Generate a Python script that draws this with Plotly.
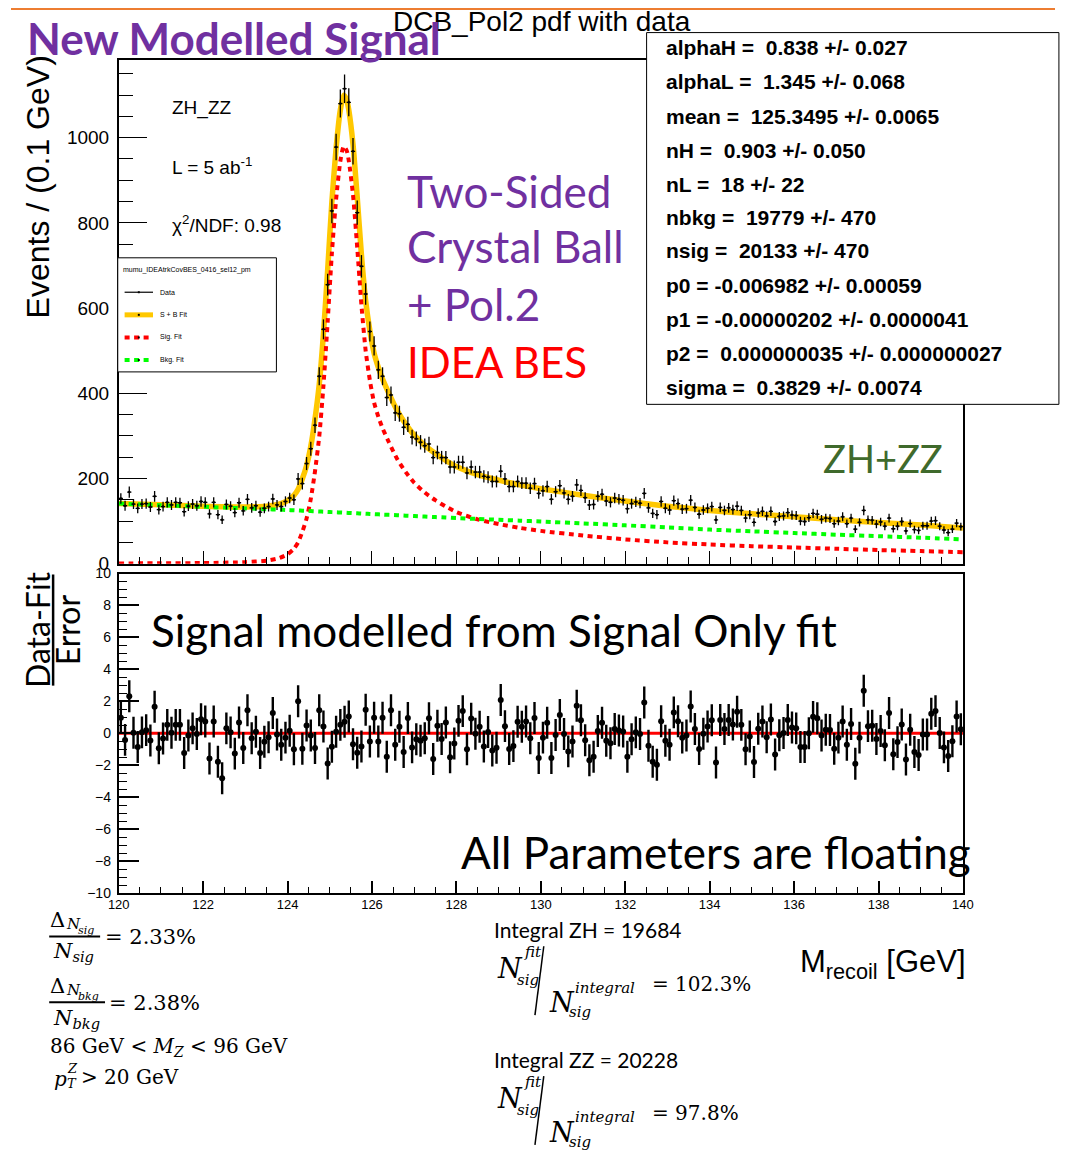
import numpy as np
import plotly.graph_objects as go

# ---------------------------------------------------------------- data
# recoil-mass histogram, 200 bins of 0.1 GeV from 120 to 140 GeV
bin_lo, bin_w, n_bins = 120.0, 0.1, 200

events = [
    153, 136, 168, 140, 130, 140, 141, 133, 158, 127,
    134, 144, 138, 144, 143, 122, 135, 140, 136, 146,
    144, 117, 144, 115, 103, 139, 135, 120, 143, 124,
    151, 131, 136, 121, 130, 134, 152, 138, 134, 146,
    154, 150, 199, 188, 235, 270, 325, 440, 550, 655,
    828, 978, 1080, 1115, 1083, 968, 824, 698, 633, 545,
    511, 455, 440, 390, 396, 354, 352, 320, 327, 297,
    293, 285, 277, 281, 249, 261, 249, 249, 227, 227,
    238, 238, 213, 227, 215, 215, 205, 203, 193, 193,
    217, 199, 181, 181, 193, 189, 189, 177, 188, 165,
    171, 181, 151, 169, 183, 166, 151, 158, 185, 172,
    155, 138, 139, 158, 163, 147, 144, 154, 151, 149,
    129, 141, 145, 142, 165, 131, 118, 115, 146, 130,
    126, 148, 141, 128, 129, 149, 132, 116, 126, 130,
    134, 103, 132, 125, 131, 127, 135, 125, 107, 115,
    97, 119, 123, 112, 123, 99, 111, 112, 120, 114,
    113, 100, 99, 108, 118, 116, 104, 107, 106, 94,
    100, 110, 94, 107, 81, 97, 125, 103, 102, 93,
    98, 88, 107, 82, 88, 99, 77, 94, 80, 78,
    89, 89, 100, 101, 88, 79, 73, 81, 95, 87,
]

# (data - fit) / error for every bin
pulls = [
    0.98, -0.41, 2.32, 0.04, -0.86, 0.06, 0.20, -0.45, 1.66, -0.94,
    -0.33, 0.53, 0.04, 0.53, 0.53, -1.23, -0.14, 0.31, -0.04, 0.88,
    0.74, -1.58, 0.74, -1.78, -2.81, 0.31, 0.06, -1.27, 0.68, -0.92,
    1.44, -0.31, 0.10, -1.23, -0.53, -0.25, 1.27, -0.08, -0.72, -0.27,
    0.16, -1.00, 2.01, -0.96, 0.49, -0.14, -0.92, 1.44, 0.43, -1.89,
    -0.84, 0.10, 0.53, 0.72, 1.05, -0.68, -1.21, -0.82, 1.48, -0.51,
    0.98, -0.51, 0.98, -1.46, 1.44, -0.72, 0.41, -1.17, 0.96, -0.88,
    -0.37, -0.47, -0.31, 0.94, -1.60, 0.47, -0.35, 0.68, -1.50, -0.64,
    0.78, 1.39, -1.00, 0.92, -0.02, 0.41, -0.82, 0.08, -1.07, -0.90,
    2.09, 0.45, -0.98, -0.80, 0.72, 0.41, 0.74, -0.31, 0.96, -1.54,
    -0.27, 0.66, -1.54, -0.10, 1.15, -0.04, -1.13, -0.51, 1.72, 0.82,
    -0.43, -1.68, -1.46, 0.14, 0.66, -0.47, -0.62, 0.27, 0.18, 0.12,
    -1.46, -0.37, 0.06, -0.04, 1.93, -0.78, -1.78, -1.97, 0.76, -0.47,
    -0.72, 1.31, 0.76, -0.27, -0.14, 1.68, 0.27, -0.98, -0.02, 0.43,
    0.82, -1.83, 0.84, 0.27, 0.84, 0.55, 1.35, 0.53, -1.00, -0.20,
    -1.80, 0.29, 0.74, -0.25, 0.86, -1.33, -0.12, 0.02, 0.84, 0.37,
    0.31, -0.86, -0.86, 0.00, 1.03, 0.94, -0.14, 0.23, 0.21, -0.96,
    -0.27, 0.74, -0.72, 0.59, -1.91, -0.27, 2.67, 0.45, 0.47, -0.35,
    0.14, -0.74, 1.27, -1.31, -0.55, 0.55, -1.64, 0.23, -1.17, -1.35,
    -0.08, -0.08, 1.23, 1.39, 0.02, -0.88, -1.42, -0.49, 1.05, 0.25,
]

# fitted model: signal (double-sided Crystal Ball) and background (pol2)
fit_x = [120.0, 121.0, 122.0, 123.0, 123.5, 123.8, 124.0, 124.15,
         124.25, 124.35, 124.45, 124.55, 124.65, 124.75, 124.85, 124.95,
         125.05, 125.15, 125.25, 125.33, 125.4, 125.45, 125.55, 125.65,
         125.75, 125.85, 125.95, 126.05, 126.15, 126.25, 126.4, 126.6,
         126.8, 127.0, 127.25, 127.5, 127.75, 128.0, 128.5, 129.0,
         129.5, 130.0, 131.0, 132.0, 133.0, 134.0, 135.0, 136.0,
         137.0, 138.0, 139.0, 140.0]
sig_fit = [0.5, 1, 1.5, 3.5, 7, 13, 22, 35,
           50, 75, 106, 152, 217, 298, 418, 568,
           729, 855, 945, 980, 970, 946, 866, 742,
           607, 500, 430, 378, 345, 318, 285, 245,
           215, 190, 167, 149, 134, 121, 104, 93,
           84, 77, 66, 57, 50, 45, 41, 38,
           35, 32, 29.5, 27]
bkg_fit = [141, 137.3, 133.5, 129.8, 127.9, 126.8, 126, 125.3,
           124.8, 124.3, 123.9, 123.4, 122.9, 122.4, 122, 121.5,
           121, 120.5, 120.1, 119.7, 119.4, 119.1, 118.6, 118.2,
           117.7, 117.2, 116.7, 116.3, 115.8, 115.3, 114.6, 113.7,
           112.7, 111.8, 110.6, 109.4, 108.2, 107, 105, 103,
           101, 99, 94.5, 90, 85, 80, 76, 72,
           68, 64.5, 61, 57]

fit_params = [
    "alphaH =  0.838 +/- 0.027",
    "alphaL =  1.345 +/- 0.068",
    "mean =  125.3495 +/- 0.0065",
    "nH =  0.903 +/- 0.050",
    "nL =  18 +/- 22",
    "nbkg =  19779 +/- 470",
    "nsig =  20133 +/- 470",
    "p0 = -0.006982 +/- 0.00059",
    "p1 = -0.00000202 +/- 0.0000041",
    "p2 =  0.000000035 +/- 0.000000027",
    "sigma =  0.3829 +/- 0.0074",
]

# ---------------------------------------------------------------- helpers
PAGE_W, PAGE_H = 1082, 1167
BODY = 8                      # default page margin around the plot div
W, H = PAGE_W - 2 * BODY, PAGE_H - 2 * BODY
ARIAL = "Liberation Sans, Arial, sans-serif"
CALIBRI = "Lato, Open Sans, sans-serif"
SERIF = "DejaVu Serif, serif"
PURPLE = "#7030A0"


def px(x):
    """page x (pixels) -> paper fraction"""
    return (x - BODY) / W


def py(y):
    """page y (pixels from top) -> paper fraction"""
    return 1 - (y - BODY) / H


fig = go.Figure()


def label(x, y, text, size, color="black", family=ARIAL, xanchor="left",
          yanchor="middle", angle=0):
    fig.add_annotation(x=px(x), y=py(y), xref="paper", yref="paper",
                       text=text, showarrow=False, textangle=angle,
                       font=dict(size=size, color=color, family=family),
                       xanchor=xanchor, yanchor=yanchor, align="left",
                       borderpad=0)


def seg(x0, y0, x1, y1, color="black", width=1, dash=None):
    fig.add_shape(type="line", xref="paper", yref="paper",
                  x0=px(x0), y0=py(y0), x1=px(x1), y1=py(y1),
                  line=dict(color=color, width=width, dash=dash),
                  layer="above")


def box(x0, y0, x1, y1, fill="white", line="black", width=1):
    fig.add_shape(type="rect", xref="paper", yref="paper",
                  x0=px(x0), y0=py(y0), x1=px(x1), y1=py(y1),
                  fillcolor=fill, line=dict(color=line, width=width),
                  layer="above")


# ---------------------------------------------------------------- traces
centers = np.round(bin_lo + bin_w * (np.arange(n_bins) + 0.5), 3)
ev = np.array(events, dtype=float)
sig = np.array(sig_fit, dtype=float)
bkg = np.array(bkg_fit, dtype=float)

DASH = "5px,4.5px"

fig.add_trace(go.Scatter(x=fit_x, y=sig + bkg, mode="lines",
                         line=dict(color="#FFC800", width=5.5, shape="spline",
                                   smoothing=0.6),
                         xaxis="x", yaxis="y"))
fig.add_trace(go.Scatter(x=fit_x, y=sig, mode="lines",
                         line=dict(color="#FF0000", width=4, dash=DASH,
                                   shape="spline", smoothing=0.6),
                         xaxis="x", yaxis="y"))
fig.add_trace(go.Scatter(x=fit_x, y=bkg, mode="lines",
                         line=dict(color="#00FF00", width=4, dash=DASH,
                                   shape="spline", smoothing=0.6),
                         xaxis="x", yaxis="y"))
fig.add_trace(go.Scatter(
    x=centers, y=ev, mode="markers",
    marker=dict(color="black", size=2.5),
    error_y=dict(type="data", array=np.sqrt(ev), color="black",
                 thickness=1.3, width=0),
    error_x=dict(type="constant", value=bin_w / 2, color="black",
                 thickness=1.3, width=0),
    xaxis="x", yaxis="y"))

# pull panel
fig.add_trace(go.Scatter(x=[120, 140], y=[0, 0], mode="lines",
                         line=dict(color="#FF0000", width=3),
                         xaxis="x2", yaxis="y2"))
fig.add_trace(go.Scatter(
    x=centers, y=pulls, mode="markers",
    marker=dict(color="black", size=6),
    error_y=dict(type="constant", value=1.0, color="black",
                 thickness=2.4, width=0),
    xaxis="x2", yaxis="y2"))

# ---------------------------------------------------------------- axes
XD = [px(118), px(980)]
common = dict(showgrid=False, zeroline=False, showline=True, mirror=True,
              linecolor="black", ticks="inside", tickcolor="black")

fig.update_layout(
    width=W, height=H, margin=dict(l=0, r=0, t=0, b=0),
    paper_bgcolor="white", plot_bgcolor="white", showlegend=False,
    xaxis=dict(domain=XD, range=[120, 140], anchor="y", dtick=2, tick0=120,
               ticklen=13, tickwidth=1.3, linewidth=1.5,
               showticklabels=False,
               minor=dict(dtick=0.5, ticklen=7, ticks="inside",
                          tickcolor="black", tickwidth=1.2),
               **common),
    yaxis=dict(domain=[py(573), py(61)], range=[0, 1182], anchor="x",
               dtick=200, tick0=0, ticklen=29, tickwidth=1.3, linewidth=1.5,
               tickfont=dict(family=ARIAL, size=19, color="black"),
               ticklabelstandoff=4,
               minor=dict(dtick=50, ticklen=15, ticks="inside",
                          tickcolor="black", tickwidth=1.2),
               **common),
    xaxis2=dict(domain=XD, range=[120, 140], anchor="y2", dtick=2, tick0=120,
                ticklen=12, tickwidth=1.5, linewidth=2,
                tickfont=dict(family=ARIAL, size=13, color="black"),
                ticklabelstandoff=-2,
                minor=dict(dtick=0.5, ticklen=6, ticks="inside",
                           tickcolor="black", tickwidth=1.2),
                **common),
    yaxis2=dict(domain=[py(908), py(583)], range=[-10, 10], anchor="x2",
                dtick=2, tick0=-10, ticklen=20, tickwidth=1.5, linewidth=2,
                tickfont=dict(family=ARIAL, size=14, color="black"),
                ticklabelstandoff=3,
                minor=dict(dtick=0.5, ticklen=8, ticks="inside",
                           tickcolor="black", tickwidth=1.2),
                **common),
)

# ---------------------------------------------------------------- decorations
# orange header rule along the top edge
box(BODY, BODY, PAGE_W - BODY, BODY + 2, fill="#ED7D31", line="#ED7D31",
    width=0)

label(397, 22, "DCB_Pol2 pdf with data", 28)
label(23, 38, "<b>New Modelled Signal</b>", 44, PURPLE, CALIBRI)

# fit-parameter box
box(657, 33, 1078, 411)
param_y = [48, 83, 118, 153, 187, 221, 255, 290, 325, 359, 394]
for yy, t in zip(param_y, fit_params):
    label(676, yy, "<b>" + t + "</b>", 21)

label(171, 110, "ZH_ZZ", 19)
label(171, 169, "L = 5 ab<sup>-1</sup>", 19)
label(171, 228, "χ<sup>2</sup>/NDF: 0.98", 19)

# legend
box(117, 262, 279, 378)
label(121, 274, "mumu_IDEAtrkCovBES_0416_sel12_pm", 7)
leg_y = [297, 320, 343, 366]
seg(124, leg_y[0], 153, leg_y[0], "black", 1.2)
seg(124, leg_y[1], 153, leg_y[1], "#FFC800", 5)
seg(124, leg_y[2], 153, leg_y[2], "#FF0000", 4, DASH)
seg(124, leg_y[3], 153, leg_y[3], "#00FF00", 4, DASH)
for yy in leg_y:
    box(137.5, yy - 1, 139.5, yy + 1, fill="black", line="black", width=0)
for yy, t in zip(leg_y, ["Data", "S + B Fit", "Sig. Fit", "Bkg. Fit"]):
    label(159, yy, t, 7)

label(411, 194, "Two-Sided", 44, PURPLE, CALIBRI)
label(411, 250, "Crystal Ball", 44, PURPLE, CALIBRI)
label(411, 309, "+ Pol.2", 44, PURPLE, CALIBRI)
label(411, 368, "IDEA BES", 42, "#FF0000", CALIBRI)
label(836, 466, "ZH+ZZ", 38, "#3F6A2C", CALIBRI)

label(150, 640, "Signal modelled from Signal Only fit", 44, "black", CALIBRI)
label(466, 866, "All Parameters are floating", 44, "black", CALIBRI)

# axis titles
label(36, 190, "Events / (0.1 GeV)", 32, angle=-90, xanchor="center")
label(35, 640, "Data-Fit", 32, family=CALIBRI, angle=-90, xanchor="center")
label(66, 640, "Error", 32, family=CALIBRI, angle=-90, xanchor="center")
seg(51, 584, 51, 697, "black", 2.5)
label(813, 980, "M<sub>recoil</sub> [GeV]", 31)

# uncertainties and selection
label(47, 935, "Δ", 21, family=SERIF)
label(63, 939, "<i>N</i>", 15, family=SERIF)
label(75, 946, "<i>sig</i>", 11, family=SERIF)
seg(47, 952, 99, 952, "black", 2)
label(50, 968, "<i>N</i><sub><i>sig</i></sub>", 21, family=SERIF)
label(103, 953, "= 2.33%", 21, family=SERIF)

label(47, 1002, "Δ", 21, family=SERIF)
label(63, 1006, "<i>N</i>", 15, family=SERIF)
label(75, 1013, "<i>bkg</i>", 11, family=SERIF)
seg(47, 1019, 104, 1019, "black", 2)
label(50, 1036, "<i>N</i><sub><i>bkg</i></sub>", 21, family=SERIF)
label(107, 1020, "= 2.38%", 21, family=SERIF)

label(47, 1064, "86 GeV &lt; <i>M</i><sub><i>Z</i></sub> &lt; 96 GeV", 20,
      family=SERIF)
label(51, 1097, "<i>p</i>", 20, family=SERIF)
label(64, 1102, "<i>T</i>", 13, family=SERIF)
label(64, 1086, "<i>Z</i>", 13, family=SERIF)
label(78, 1095, "&gt; 20 GeV", 20, family=SERIF)

# fitted yield over true yield
for dy, integ, ratio in [(0, "Integral ZH = 19684", "= 102.3%"),
                         (132, "Integral ZZ = 20228", "= 97.8%")]:
    label(500, 945 + dy, integ, 21, family=CALIBRI)
    label(503, 985 + dy, "<i>N</i>", 27, family=SERIF)
    label(531, 968 + dy, "<i>fit</i>", 15, family=SERIF)
    label(524, 996 + dy, "<i>sig</i>", 15, family=SERIF)
    seg(552, 962 + dy, 543, 1032 + dy, "black", 1.5)
    label(556, 1019 + dy, "<i>N</i>", 27, family=SERIF)
    label(583, 1004 + dy, "<i>integral</i>", 15, family=SERIF)
    label(577, 1029 + dy, "<i>sig</i>", 15, family=SERIF)
    label(661, 1000 + dy, ratio, 20, family=SERIF)

fig.write_html("out.html")
